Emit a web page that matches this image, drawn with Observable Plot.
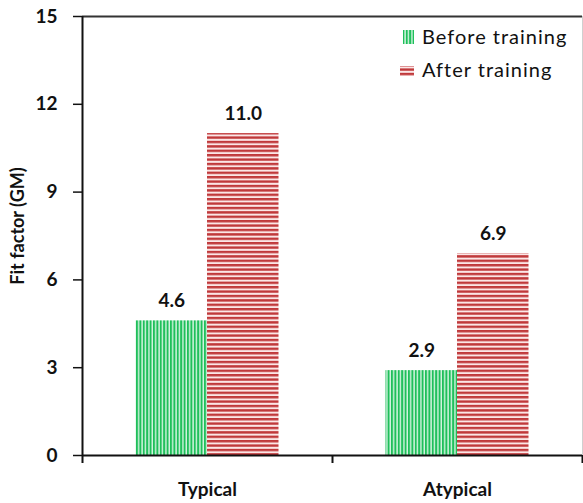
<!DOCTYPE html>
<html>
<head>
<meta charset="utf-8">
<script src="https://cdn.jsdelivr.net/npm/d3@7"></script>
<script src="https://cdn.jsdelivr.net/npm/@observablehq/plot@0.6"></script>
<style>
  html, body { margin: 0; padding: 0; background: #fff; }
  #wrap { position: relative; width: 583px; height: 503px; font-family: Lato, "Open Sans", sans-serif; }
  #legend { position: absolute; left: 399px; top: 20px; font-size: 20px; color: #111; line-height: 33px; letter-spacing: 1px; }
  #legend div { display: flex; align-items: center; }
  #legend svg { margin-right: 7px; }
</style>
</head>
<body>
<div id="wrap"><div id="legend"></div></div>
<script>
const categories = ["Typical", "Atypical"];
const beforeTraining = [4.6, 2.9];
const afterTraining = [11.0, 6.9];
const seriesNames = ["Before training", "After training"];
const yTicks = [0, 3, 6, 9, 12, 15];

const rows = categories.map((c, i) => ({cat: c, before: beforeTraining[i], after: afterTraining[i]}));

const W = 583, H = 503, mt = 16, mb = 48, ml = 82, mr = 1;
const plotH = H - mt - mb;
const band = (W - ml - mr) / categories.length;
const barW = 71.5;
const outer = band / 2 - barW;

const chart = Plot.plot({
  width: W, height: H,
  marginTop: mt, marginBottom: mb, marginLeft: ml, marginRight: mr,
  style: {fontFamily: "Lato, 'Open Sans', sans-serif", background: "transparent", overflow: "visible"},
  x: {domain: categories, padding: 0, label: null},
  y: {domain: [0, 15], label: null},
  marks: [
    Plot.frame({stroke: "#d0d0d0", strokeWidth: 1}),
    Plot.barY(rows, {x: "cat", y: "before", fill: "url(#gpat)", insetLeft: outer, insetRight: band / 2}),
    Plot.barY(rows, {x: "cat", y: "after", fill: "url(#rpat)", insetLeft: band / 2, insetRight: outer}),
    Plot.text(rows, {x: "cat", y: "before", text: d => d.before.toFixed(1), dx: -barW / 2, dy: -20, fontSize: 19, fontWeight: "bold", fill: "#111"}),
    Plot.text(rows, {x: "cat", y: "after", text: d => d.after.toFixed(1), dx: barW / 2, dy: -20, fontSize: 19, fontWeight: "bold", fill: "#111"}),
    Plot.ruleY([15], {stroke: "#333", strokeWidth: 2}),
    Plot.ruleY([0], {stroke: "#111", strokeWidth: 2}),
    Plot.ruleX([categories[0]], {x: d => d, dx: -band / 2, insetBottom: -8, stroke: "#111", strokeWidth: 2}),
    Plot.ruleX(categories, {x: d => d, dx: band / 2, insetTop: plotH, insetBottom: -8, stroke: "#111", strokeWidth: 2}),
    Plot.axisY({ticks: yTicks, tickSize: 9, tickPadding: 16, fontSize: 19, fontWeight: "bold", label: null, stroke: "#111", strokeWidth: 1.5, color: "#111"}),
    Plot.axisX({tickSize: 0, tickPadding: 27, fontSize: 19, fontWeight: "bold", label: null, color: "#111"}),
    Plot.text(["Fit factor (GM)"], {frameAnchor: "left", textAnchor: "middle", dx: -64, dy: -10, rotate: -90, fontSize: 18, fontWeight: "bold", fill: "#111"})
  ]
});

const defs = d3.select(chart).insert("defs", ":first-child");
const g = defs.append("pattern").attr("id", "gpat").attr("patternUnits", "userSpaceOnUse").attr("width", 3.4).attr("height", 10);
g.append("rect").attr("width", 3.4).attr("height", 10).attr("fill", "#d6f5e2");
g.append("rect").attr("width", 2).attr("height", 10).attr("fill", "#1fbf5a");
const r = defs.append("pattern").attr("id", "rpat").attr("patternUnits", "userSpaceOnUse").attr("width", 10).attr("height", 4.4);
r.append("rect").attr("width", 10).attr("height", 4.4).attr("fill", "#fbe6e6");
r.append("rect").attr("width", 10).attr("height", 2.4).attr("fill", "#c0393b");

document.getElementById("wrap").prepend(chart);

// legend
const legend = d3.select("#legend");
const l1 = legend.append("div");
const s1 = l1.append("svg").attr("width", 16).attr("height", 16);
s1.append("rect").attr("x", 4).attr("y", 1).attr("width", 11).attr("height", 14).attr("fill", "url(#gpat)");
l1.append("span").text(seriesNames[0]);
const l2 = legend.append("div");
const s2 = l2.append("svg").attr("width", 16).attr("height", 12);
s2.append("rect").attr("x", 1).attr("y", 2).attr("width", 14).attr("height", 10).attr("fill", "url(#rpat)");
l2.append("span").text(seriesNames[1]);
</script>
</body>
</html>
